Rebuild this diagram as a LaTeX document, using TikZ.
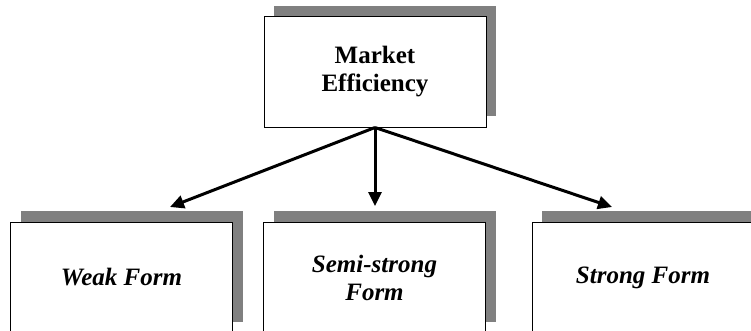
\documentclass[tikz,border=0pt]{standalone}
\usepackage{fontspec}
\setmainfont{Liberation Serif}
\usetikzlibrary{shadows,arrows.meta}
\definecolor{shadowgray}{RGB}{128,128,128}

\begin{document}
\begin{tikzpicture}[x=1pt,y=1pt,
		box/.style={draw=black,fill=white,line width=1pt,minimum width=222pt,minimum height=110pt,inner sep=0pt,align=center,drop shadow={shadow xshift=10pt,shadow yshift=11pt,fill=shadowgray,opacity=1}},
		form/.style={box,minimum height=111pt,font=\fontsize{25}{29}\selectfont\bfseries\itshape},
		link/.style={-{Triangle[length=14pt,width=13pt]},line width=3pt}]
			\useasboundingbox (0,0) rectangle (751,330);
			\node[box,font=\fontsize{25}{28}\selectfont\bfseries] (market) at (375,258) {Market\\Efficiency};
			\node[form] (weak) at (121.5,52.5) {Weak Form};
			\node[form] (semi) at (374.5,52.5) {Semi-strong\\[-1pt]Form};
			\node[form] (strong) at (643,52.5) {Strong Form};
			\coordinate (weaktip) at (170,123);
			\coordinate (semitip) at (375,124);
			\coordinate (strongtip) at (612,123);
			\draw[link] (market.south) -- (weaktip);
			\draw[link] (market.south) -- (semitip);
			\draw[link] (market.south) -- (strongtip);
		\end{tikzpicture}
\end{document}
